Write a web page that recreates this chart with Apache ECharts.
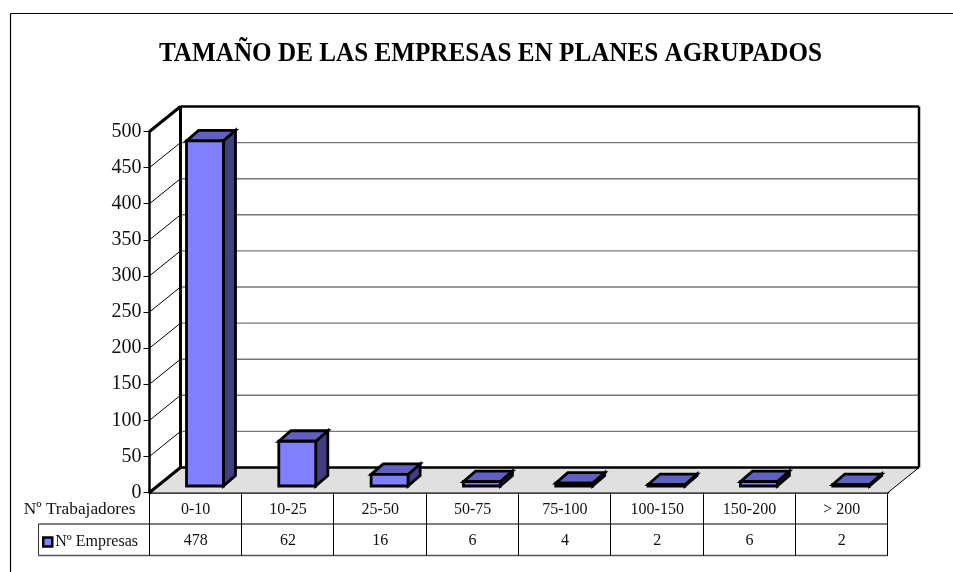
<!DOCTYPE html>
<html><head><meta charset="utf-8">
<style>html,body{margin:0;padding:0;background:#fff}#c{width:953px;height:572px}</style>
<script src="https://cdn.jsdelivr.net/npm/echarts@6/dist/echarts.min.js"></script>
</head><body><div id="c"></div>
<script>
const titleText = 'TAMAÑO DE LAS EMPRESAS EN PLANES AGRUPADOS';
const categories = ['0-10','10-25','25-50','50-75','75-100','100-150','150-200','> 200'];
const empresas = [478,62,16,6,4,2,6,2];
const yTicks = [50,100,150,200,250,300,350,400,450,500];
const rowHeader = 'Nº Trabajadores';
const seriesName = 'Nº Empresas';

const SERIF = '"Liberation Serif","Times New Roman",serif';
const DX = 31, DY = -25;            // depth of the 3D box
const GRID = {left:149.5, right:65, top:131.5, bottom:79.5};
const ROW = 31.5;
const BLK = '#000';

const chart = echarts.init(document.getElementById('c'), null, {renderer:'canvas'});

function line(x1,y1,x2,y2,w,c){
  return {type:'line',shape:{x1,y1,x2,y2},style:{stroke:c||BLK,lineWidth:w||1},silent:true};
}
function poly(pts,fill,stroke,w){
  return {type:'polygon',shape:{points:pts},style:{fill,stroke:stroke||'none',lineWidth:w||0,lineJoin:'miter'},silent:true};
}

function renderBox(params,api){
  const cs = params.coordSys;
  const L=cs.x,R=cs.x+cs.width,T=cs.y,B=cs.y+cs.height;
  const kids=[
    poly([[L+DX,T+DY],[R+DX,T+DY],[R+DX,B+DY],[L+DX,B+DY]],'#fff'),
    poly([[L,B],[R,B],[R+DX,B+DY],[L+DX,B+DY]],'#e0e0e0')
  ];
  yTicks.forEach(v=>{
    const y=api.coord([0,v])[1];
    if(v<500) kids.push(line(L+DX,y+DY,R+DX,y+DY,1.4,'#777'));
    kids.push(line(L,y,L+DX,y+DY,1,BLK));
  });
  kids.push(line(L+DX,T+DY,R+DX,T+DY,2.5));
  kids.push(line(R+DX,T+DY,R+DX,B+DY,2.5));
  kids.push(line(L+DX,B+DY,R+DX,B+DY,2.5));
  kids.push(line(L+DX,T+DY,L+DX,B+DY,3));
  kids.push(line(L,T,L+DX,T+DY,3));
  kids.push(line(L,B,L+DX,B+DY,3));
  kids.push(line(R,B,R+DX,B+DY,1));
  return {type:'group',children:kids};
}

function renderBar(params,api){
  const x=api.coord([api.value(0),0])[0];
  const base=api.coord([0,0])[1];
  const v=api.coord([0,api.value(1)])[1];
  const w=api.size([1,0])[0]*0.4;
  const dx=DX*0.39, dy=DY*0.42, fx=DX*0.3, fy=DY*0.26;
  const l=x-w/2+fx, r=x+w/2+fx, b=base+fy, t=v+fy;
  return {type:'group',children:[
    poly([[r,b],[r+dx,b+dy],[r+dx,t+dy],[r,t]],'#404080',BLK,2.8),
    poly([[l,t],[r,t],[r+dx,t+dy],[l+dx,t+dy]],'#6060c0',BLK,2.8),
    poly([[l,b],[r,b],[r,t],[l,t]],'#8080ff',BLK,2.8)
  ]};
}

function renderTable(params,api){
  const cs=params.coordSys;
  const L=cs.x,R=cs.x+cs.width,B=cs.y+cs.height;
  const step=cs.width/categories.length;
  const lx=38.5;
  const kids=[
    line(lx,B+ROW,R,B+ROW,1.4,'#555'),
    line(lx,B+2*ROW,R,B+2*ROW,1.4,'#555'),
    line(lx,B+ROW,lx,B+2*ROW,1,'#333'),
    {type:'text',style:{text:rowHeader,x:L-14,y:B+ROW/2+1.5,align:'right',verticalAlign:'middle',font:'17.3px '+SERIF,fill:'#111'},silent:true}
  ];
  for(let i=0;i<=categories.length;i++){
    const x=Math.floor(L+i*step-.3)+.5;
    kids.push(line(x,B,x,B+2*ROW,1,BLK));
  }
  categories.forEach((c,i)=>{
    const x=L+(i+.5)*step;
    kids.push({type:'text',style:{text:c,x,y:B+ROW/2+1.5,align:'center',verticalAlign:'middle',font:'16px '+SERIF,fill:'#111'},silent:true});
    kids.push({type:'text',style:{text:String(empresas[i]),x,y:B+ROW*1.5+1,align:'center',verticalAlign:'middle',font:'16px '+SERIF,fill:'#111'},silent:true});
  });
  return {type:'group',children:kids};
}

chart.setOption({
  animation:false,
  backgroundColor:'#fff',
  graphic:[
    {type:'line',shape:{x1:10.5,y1:13.5,x2:953,y2:13.5},style:{stroke:'#000',lineWidth:1.2},silent:true},
    {type:'line',shape:{x1:10.5,y1:13.5,x2:10.5,y2:572},style:{stroke:'#000',lineWidth:1.2},silent:true},
    {type:'text',x:490.5,y:54,scaleX:0.932,
      style:{text:titleText,align:'center',verticalAlign:'middle',font:'bold 27px '+SERIF,fill:'#000'},silent:true}
  ],
  legend:{data:[{name:seriesName,icon:'rect'}],left:37,top:529,itemWidth:9,itemHeight:9,itemGap:0,
    itemStyle:{color:'#8080ff',borderColor:'#000',borderWidth:2.5},
    textStyle:{fontFamily:SERIF,fontSize:16,color:'#111',padding:[0,0,0,-2]},
    selectedMode:false},
  grid:GRID,
  xAxis:{type:'category',data:categories,boundaryGap:true,
    axisLine:{show:true,lineStyle:{color:BLK,width:2.5}},axisTick:{show:false},axisLabel:{show:false},splitLine:{show:false}},
  yAxis:{type:'value',min:0,max:500,interval:50,
    axisLine:{show:true,lineStyle:{color:BLK,width:2.5}},
    axisTick:{show:true,length:6,lineStyle:{color:BLK,width:1}},
    axisLabel:{fontFamily:SERIF,fontSize:20,color:'#111',margin:8,padding:[5,0,0,0]},
    splitLine:{show:false}},
  series:[
    {type:'custom',name:'box',renderItem:renderBox,data:[[0,0]],silent:true,z:1,clip:false,encode:{x:0,y:1}},
    {type:'custom',name:seriesName,renderItem:renderBar,z:2,clip:false,
      itemStyle:{color:'#8080ff',borderColor:'#000',borderWidth:2.5},
      encode:{x:0,y:1},data:empresas.map((v,i)=>[i,v])},
    {type:'custom',name:'table',renderItem:renderTable,data:[[0,0]],silent:true,z:3,clip:false,encode:{x:0,y:1}}
  ]
});
</script></body></html>
